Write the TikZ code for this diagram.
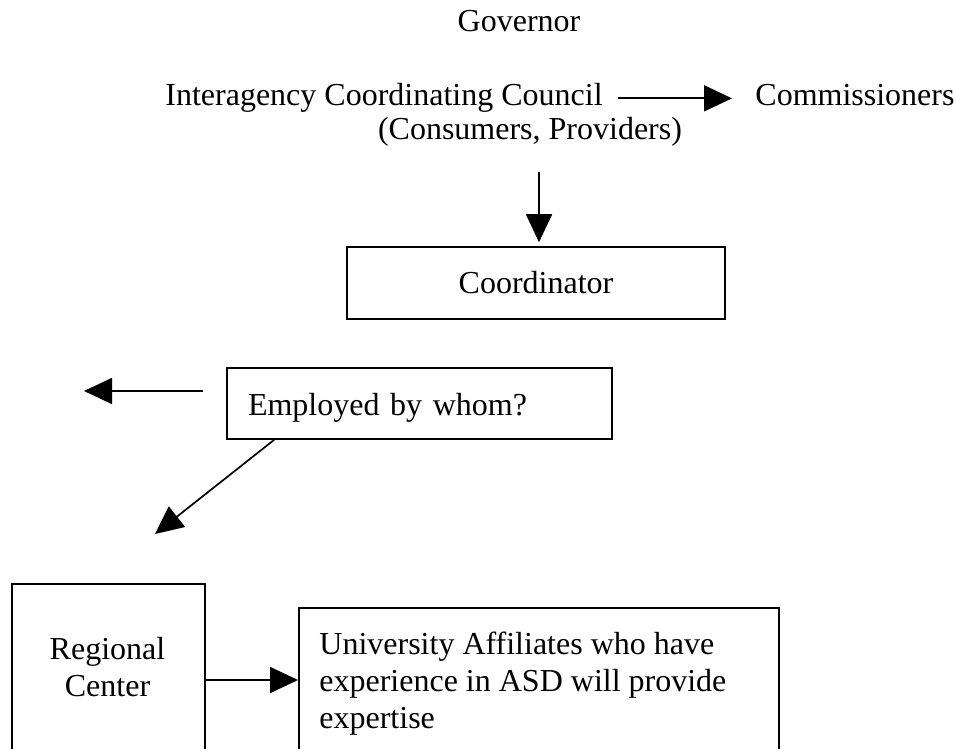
\documentclass[tikz,border=0pt]{standalone}
\usepackage{fontspec}
\setmainfont{Liberation Serif}
\usetikzlibrary{arrows.meta}

\begin{document}
\begin{tikzpicture}
	[x=0.5pt,y=-0.5pt,font=\fontsize{16pt}{18.5pt}\selectfont,
	 box/.style={draw,line width=0.75pt,inner sep=0pt},
	 lbl/.style={inner sep=0pt},
	 arr/.style={line width=0.85pt,-{Triangle[length=14pt,width=13pt]}}]
    \useasboundingbox (0,0) rectangle (956,748);
    \clip (0,0) rectangle (956,748);

    \node[lbl,anchor=base] (gov) at (519,32) {Governor};
    \node[lbl,anchor=base west] (icc) at (165,106) {Interagency Coordinating Council};
    \node[lbl,anchor=base] (members) at (530,140) {(Consumers, Providers)};
    \node[lbl,anchor=base west] (comm) at (755,106) {Commissioners};
    \node[box,minimum width=189pt,minimum height=36pt] (coord) at (536,283) {Coordinator};
    \node[box,text width=171.5pt,align=left,inner xsep=10.5pt,minimum height=35.5pt,
          text height=14pt,text depth=2.5pt] (empl) at (419.5,403.5) {Employed by whom?};
    \node[box,anchor=north west,minimum width=96.5pt,minimum height=100pt] (reg) at (11,583) {};
    \node[lbl,anchor=north,align=center] (regtext) at (107.5,637) {Regional\\Center};
    \node[box,anchor=north west,minimum width=240pt,minimum height=100pt] (univ) at (298,607) {};
    \node[lbl,anchor=north west,align=left] (univtext) at (319,632)
        {University Affiliates who have\\experience in ASD will provide\\expertise};

    \coordinate (down) at (539,172);
    \coordinate (lefttail) at (203,391);
    \coordinate (lefthead) at (84,391);
    \coordinate (diaghead) at (155,534);
    \coordinate (regout) at ([yshift=-48.5pt]reg.north east);

    \draw[arr,shorten <=7.5pt,shorten >=11.5pt] (icc.east) -- (icc.east -| comm.west);
    \draw[arr,shorten >=2pt] (down) -- (down |- coord.north);
    \draw[arr] (lefttail) -- (lefthead);
    \draw[arr] ([xshift=24pt]empl.south west) -- (diaghead);
    \draw[arr] (regout) -- (regout -| univ.west);

\end{tikzpicture}
\end{document}
